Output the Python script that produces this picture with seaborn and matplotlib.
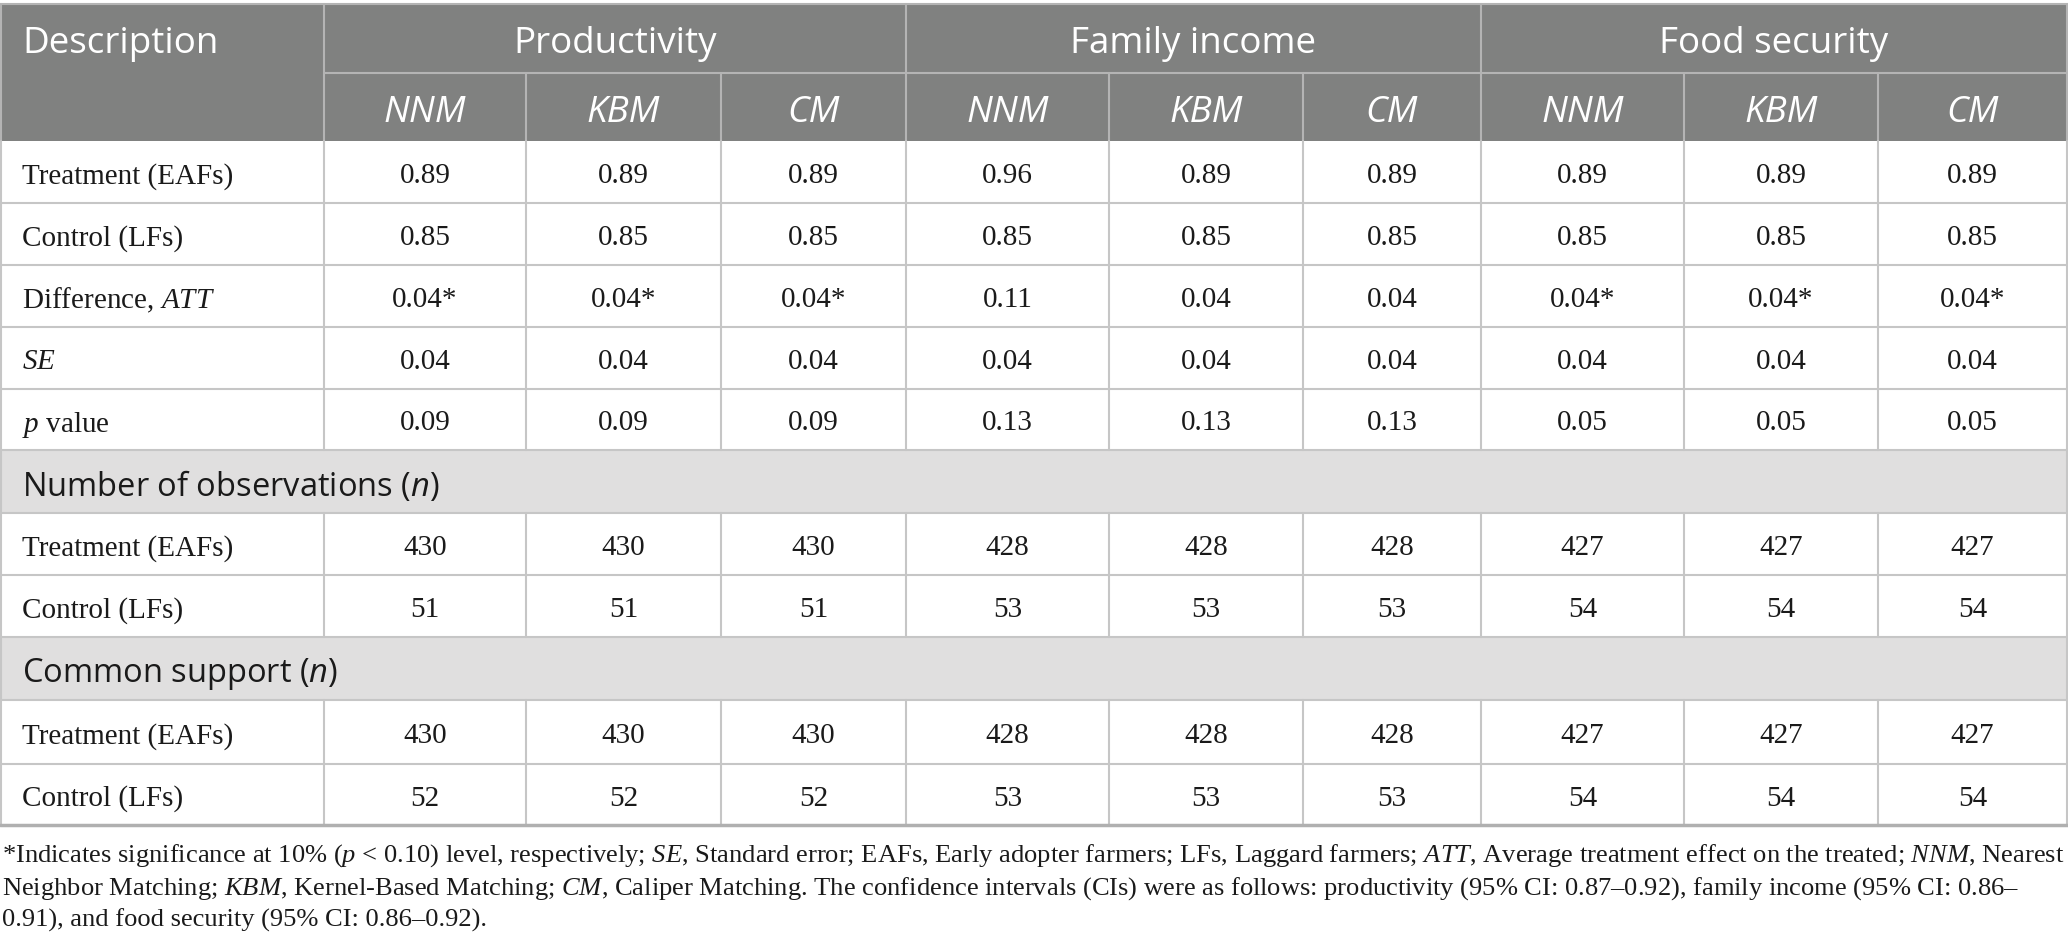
import matplotlib
matplotlib.use("Agg")
import matplotlib.pyplot as plt
import seaborn as sns
from matplotlib.patches import Rectangle

sns.set_theme(style="white")
plt.rcParams["mathtext.fontset"] = "custom"
plt.rcParams["mathtext.it"] = "Liberation Serif:italic"
plt.rcParams["mathtext.rm"] = "Liberation Serif"
plt.rcParams["mathtext.sf"] = "Open Sans:italic"

# ---------------- data ----------------
outcomes = ["Productivity", "Family income", "Food security"]
methods = ["NNM", "KBM", "CM"]
stat_labels = ["Treatment (EAFs)", "Control (LFs)", "Difference, $\\mathit{ATT}$",
               "$\\mathit{SE}$", "$\\mathit{p}$ value"]
treatment = ["0.89", "0.89", "0.89", "0.96", "0.89", "0.89", "0.89", "0.89", "0.89"]
control = ["0.85", "0.85", "0.85", "0.85", "0.85", "0.85", "0.85", "0.85", "0.85"]
att = ["0.04*", "0.04*", "0.04*", "0.11", "0.04", "0.04", "0.04*", "0.04*", "0.04*"]
se = ["0.04", "0.04", "0.04", "0.04", "0.04", "0.04", "0.04", "0.04", "0.04"]
pval = ["0.09", "0.09", "0.09", "0.13", "0.13", "0.13", "0.05", "0.05", "0.05"]
section1 = "Number of observations ($\\mathsf{n}$)"
obs_treat = ["430", "430", "430", "428", "428", "428", "427", "427", "427"]
obs_ctrl = ["51", "51", "51", "53", "53", "53", "54", "54", "54"]
section2 = "Common support ($\\mathsf{n}$)"
cs_treat = ["430", "430", "430", "428", "428", "428", "427", "427", "427"]
cs_ctrl = ["52", "52", "52", "53", "53", "53", "54", "54", "54"]
footnote = [
    "*Indicates significance at 10% ($\\mathit{p}$ < 0.10) level, respectively; $\\mathit{SE}$, Standard error; EAFs, Early adopter farmers; LFs, Laggard farmers; $\\mathit{ATT}$, Average treatment effect on the treated; $\\mathit{NNM}$, Nearest",
    "Neighbor Matching; $\\mathit{KBM}$, Kernel-Based Matching; $\\mathit{CM}$, Caliper Matching. The confidence intervals (CIs) were as follows: productivity (95% CI: 0.87\u20130.92), family income (95% CI: 0.86\u2013",
    "0.91), and food security (95% CI: 0.86\u20130.92).",
]

# ---------------- layout ----------------
W, H = 2068, 952
fig = plt.figure(figsize=(W / 100, H / 100), dpi=100)
ax = fig.add_axes([0, 0, 1, 1])
ax.set_xlim(0, W)
ax.set_ylim(H, 0)
ax.axis("off")

col_x = [0, 324, 526, 721, 906, 1109, 1303, 1481, 1684, 1878, 2067]
hdr_top, hdr_mid, hdr_bot = 4, 73, 141
row_y = [141, 203, 265, 327, 389, 450, 513, 575, 637, 700, 764, 825]

HDR_BG = "#808180"
SEC_BG = "#e0dfdf"
LINE = "#c6c6c6"
HDR_LINE = "#b4b4b4"
TXT = "#1a1a1a"
SANS = "Open Sans"
SERIF = "Liberation Serif"
HDR_FS = 26.5
BODY_FS = 21
SEC_FS = 23.5
FOOT_FS = 19.05

# header background
ax.add_patch(Rectangle((0, hdr_top), W, hdr_bot - hdr_top, color=HDR_BG, lw=0))
ax.plot([0, W], [hdr_top, hdr_top], color=HDR_LINE, lw=1.5)
ax.plot([col_x[1], W], [hdr_mid, hdr_mid], color=HDR_LINE, lw=1.5)
for i in [1, 4, 7]:
    ax.plot([col_x[i], col_x[i]], [hdr_top, hdr_bot], color=HDR_LINE, lw=1.5)
for i in [2, 3, 5, 6, 8, 9]:
    ax.plot([col_x[i], col_x[i]], [hdr_mid, hdr_bot], color=HDR_LINE, lw=1.5)
ax.plot([0.5, 0.5], [hdr_top, hdr_bot], color=HDR_LINE, lw=1.5)
ax.plot([W - 1, W - 1], [hdr_top, hdr_bot], color=HDR_LINE, lw=1.5)

ax.text(22, 40, "Description", color="white", family=SANS, fontsize=HDR_FS,
        ha="left", va="center_baseline")
for g, name in enumerate(outcomes):
    xc = (col_x[1 + 3 * g] + col_x[4 + 3 * g]) / 2
    ax.text(xc, 40, name, color="white", family=SANS, fontsize=HDR_FS,
            ha="center", va="center_baseline")
    for m, meth in enumerate(methods):
        c = 1 + 3 * g + m
        ax.text((col_x[c] + col_x[c + 1]) / 2, 108, meth, color="white",
                family=SANS, fontsize=HDR_FS, style="italic",
                ha="center", va="center_baseline")

# body rows
body = [
    ("row", stat_labels[0], treatment),
    ("row", stat_labels[1], control),
    ("row", stat_labels[2], att),
    ("row", stat_labels[3], se),
    ("row", stat_labels[4], pval),
    ("sec", section1, None),
    ("row", "Treatment (EAFs)", obs_treat),
    ("row", "Control (LFs)", obs_ctrl),
    ("sec", section2, None),
    ("row", "Treatment (EAFs)", cs_treat),
    ("row", "Control (LFs)", cs_ctrl),
]
for r, (kind, label, vals) in enumerate(body):
    y0, y1 = row_y[r], row_y[r + 1]
    yc = (y0 + y1) / 2 + 1
    if kind == "sec":
        ax.add_patch(Rectangle((0, y0), W, y1 - y0, color=SEC_BG, lw=0))
        ax.text(22, yc, label, family=SANS, fontsize=SEC_FS, color=TXT,
                ha="left", va="center_baseline")
        ax.plot([0.5, 0.5], [y0, y1], color=LINE, lw=1.5)
        ax.plot([W - 1, W - 1], [y0, y1], color=LINE, lw=1.5)
    else:
        for c in range(len(col_x)):
            xv = col_x[c] if 0 < c < len(col_x) - 1 else (0.5 if c == 0 else W - 1)
            ax.plot([xv, xv], [y0, y1], color=LINE, lw=1.5)
        ax.text(22, yc, label, family=SERIF, fontsize=BODY_FS, color=TXT,
                ha="left", va="center_baseline")
        for j, v in enumerate(vals):
            c = j + 1
            ax.text((col_x[c] + col_x[c + 1]) / 2, yc, v, family=SERIF,
                    fontsize=BODY_FS, color=TXT, ha="center", va="center_baseline")
    if r > 0:
        ax.plot([0, W], [y0, y0], color=LINE, lw=1.5)
last = row_y[-1]
ax.plot([0, W], [last, last], color="#b0b0b0", lw=2.5)

# footnote
for k, line in enumerate(footnote):
    ax.text(2, 862 + 32.5 * k, line, family=SERIF, fontsize=FOOT_FS, color=TXT,
            ha="left", va="baseline")

fig.savefig("out.png", dpi=100)
